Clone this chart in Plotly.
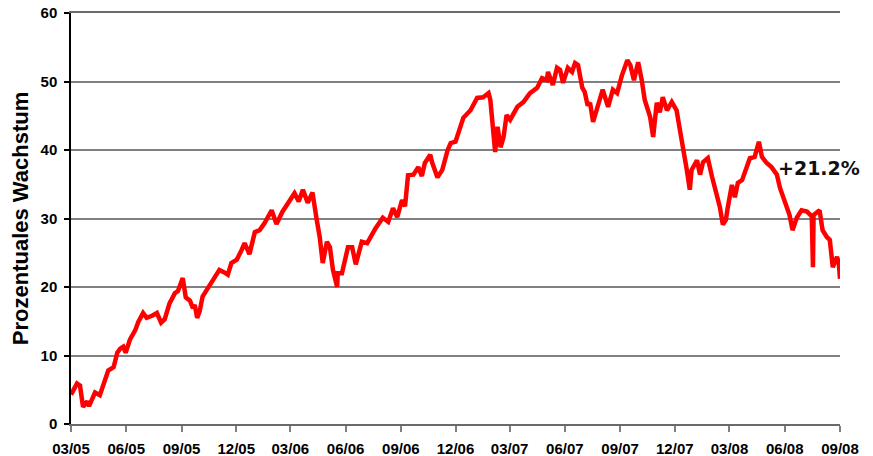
import plotly.graph_objects as go

dates = [
    "2005-03-01", "2005-03-06", "2005-03-11", "2005-03-16", "2005-03-21", "2005-03-28", "2005-03-31",
    "2005-04-05", "2005-04-10", "2005-04-18", "2005-04-24", "2005-05-02", "2005-05-11", "2005-05-17",
    "2005-05-22", "2005-05-27", "2005-05-31", "2005-06-07", "2005-06-16", "2005-06-21", "2005-06-29",
    "2005-07-05", "2005-07-14", "2005-07-22", "2005-07-29", "2005-08-04", "2005-08-12", "2005-08-21",
    "2005-08-26", "2005-08-31", "2005-09-03", "2005-09-08", "2005-09-15", "2005-09-20", "2005-09-23",
    "2005-09-27", "2005-10-01", "2005-10-06", "2005-10-15", "2005-10-26", "2005-11-03", "2005-11-12",
    "2005-11-17", "2005-11-23", "2005-12-02", "2005-12-10", "2005-12-15", "2005-12-23", "2006-01-01",
    "2006-01-09", "2006-01-17", "2006-01-29", "2006-02-06", "2006-02-16", "2006-02-25", "2006-03-08",
    "2006-03-15", "2006-03-22", "2006-03-30", "2006-04-07", "2006-04-14", "2006-04-19", "2006-04-24",
    "2006-05-01", "2006-05-06", "2006-05-11", "2006-05-18", "2006-05-19", "2006-05-26", "2006-06-05",
    "2006-06-12", "2006-06-18", "2006-06-28", "2006-07-07", "2006-07-21", "2006-08-02", "2006-08-11",
    "2006-08-19", "2006-08-26", "2006-09-03", "2006-09-08", "2006-09-13", "2006-09-22", "2006-09-30",
    "2006-10-06", "2006-10-11", "2006-10-20", "2006-10-23", "2006-11-01", "2006-11-09", "2006-11-18",
    "2006-11-23", "2006-12-01", "2006-12-06", "2006-12-14", "2006-12-26", "2007-01-06", "2007-01-16",
    "2007-01-25", "2007-01-28", "2007-02-02", "2007-02-05", "2007-02-09", "2007-02-14", "2007-02-19",
    "2007-02-24", "2007-03-02", "2007-03-14", "2007-03-24", "2007-04-04", "2007-04-16", "2007-04-24",
    "2007-05-02", "2007-05-04", "2007-05-12", "2007-05-19", "2007-05-24", "2007-05-29", "2007-06-06",
    "2007-06-13", "2007-06-18", "2007-06-23", "2007-06-30", "2007-07-04", "2007-07-09", "2007-07-13",
    "2007-07-18", "2007-07-26", "2007-08-03", "2007-08-12", "2007-08-20", "2007-08-27", "2007-09-04",
    "2007-09-13", "2007-09-18", "2007-09-24", "2007-10-01", "2007-10-07", "2007-10-12", "2007-10-21",
    "2007-10-26", "2007-11-01", "2007-11-06", "2007-11-11", "2007-11-18", "2007-11-26", "2007-12-04",
    "2007-12-09", "2007-12-14", "2007-12-21", "2007-12-26", "2007-12-29", "2008-01-07", "2008-01-12",
    "2008-01-17", "2008-01-25", "2008-02-01", "2008-02-09", "2008-02-14", "2008-02-19", "2008-02-24",
    "2008-02-27", "2008-03-05", "2008-03-10", "2008-03-15", "2008-03-22", "2008-03-30", "2008-04-04",
    "2008-04-12", "2008-04-19", "2008-04-24", "2008-05-02", "2008-05-10", "2008-05-19", "2008-05-24",
    "2008-06-01", "2008-06-09", "2008-06-14", "2008-06-21", "2008-06-29", "2008-07-08", "2008-07-14",
    "2008-07-16", "2008-07-18", "2008-07-19", "2008-07-29", "2008-08-03", "2008-08-10", "2008-08-15",
    "2008-08-20", "2008-08-27", "2008-08-30", "2008-09-01",
]

growth = [
    4.3, 5.2, 5.9, 5.6, 2.5, 3.3, 2.6,
    3.6, 4.6, 4.2, 5.9, 7.8, 8.3, 10.4,
    11.0, 11.3, 10.4, 12.3, 13.7, 14.9, 16.2,
    15.5, 15.8, 16.2, 14.8, 15.3, 17.6, 19.1,
    19.4, 20.5, 21.3, 18.5, 18.0, 16.9, 17.4,
    15.5, 16.4, 18.6, 19.8, 21.5, 22.5, 22.1,
    21.8, 23.5, 24.0, 25.4, 26.4, 24.8, 28.0,
    28.3, 29.3, 31.2, 29.2, 31.0, 32.3, 33.7,
    32.5, 34.2, 32.3, 33.8, 29.8, 27.3, 23.5,
    26.6, 25.8, 22.5, 20.0, 22.0, 22.0, 25.8,
    25.8, 23.3, 26.6, 26.4, 28.6, 30.1, 29.5,
    31.5, 30.2, 32.7, 31.8, 36.3, 36.4, 37.5,
    36.2, 38.1, 39.3, 38.2, 36.0, 37.1, 40.0,
    41.0, 41.2, 42.5, 44.7, 45.8, 47.6, 47.7,
    48.3, 47.3, 42.5, 39.7, 43.4, 40.4, 41.9,
    45.1, 44.4, 46.3, 47.0, 48.3, 49.1, 50.5,
    50.2, 51.4, 49.5, 52.0, 51.7, 49.8, 52.0,
    51.4, 52.7, 52.4, 49.1, 48.5, 46.5, 46.9,
    44.1, 46.3, 48.8, 46.3, 48.8, 48.3, 50.9,
    53.1, 52.4, 50.2, 52.8, 50.2, 47.3, 44.8,
    41.9, 46.9, 45.5, 47.7, 45.8, 47.0, 45.8,
    43.2, 41.0, 37.1, 34.2, 37.1, 38.5, 36.4,
    38.2, 38.8, 36.1, 33.7, 31.7, 29.1, 29.8,
    31.5, 34.9, 33.1, 35.2, 35.6, 37.5, 38.8,
    39.0, 41.2, 39.0, 38.1, 37.5, 36.4, 34.5,
    32.3, 30.5, 28.3, 30.1, 31.2, 31.0, 30.5,
    30.3, 22.9, 30.5, 31.2, 28.3, 27.3, 26.9,
    22.9, 24.4, 23.5, 21.2,
]

tick_dates = ["2005-03-01", "2005-06-01", "2005-09-01", "2005-12-01", "2006-03-01", "2006-06-01",
              "2006-09-01", "2006-12-01", "2007-03-01", "2007-06-01", "2007-09-01", "2007-12-01",
              "2008-03-01", "2008-06-01", "2008-09-01"]
tick_labels = ["03/05", "06/05", "09/05", "12/05", "03/06", "06/06", "09/06", "12/06",
               "03/07", "06/07", "09/07", "12/07", "03/08", "06/08", "09/08"]
y_ticks = [0, 10, 20, 30, 40, 50, 60]

annotation_text = "+21.2%"
annotation_date = "2008-05-18"
annotation_value = 37.4

fig = go.Figure()
fig.add_trace(go.Scatter(
    x=dates, y=growth, mode="lines",
    line=dict(color="#FF0000", width=4.5),
    showlegend=False, hoverinfo="skip",
))

fig.add_annotation(
    x=annotation_date, y=annotation_value, text=annotation_text,
    xanchor="left", yanchor="middle", showarrow=False,
    font=dict(family="DejaVu Sans", size=19, color="#111111", weight="bold"),
)

# the page adds an 8px body margin, so the figure is 8px smaller and margins shifted
fig.update_layout(
    width=865, height=448,
    margin=dict(l=63, r=33, t=5, b=32, autoexpand=False),
    paper_bgcolor="white", plot_bgcolor="white",
    font=dict(family="Liberation Sans, Arial", color="black"),
    xaxis=dict(
        type="date",
        range=["2005-03-01", "2008-09-01"],
        tickvals=tick_dates, ticktext=tick_labels,
        showgrid=False, zeroline=False, automargin=False,
        showline=True, linecolor="#6a6a6a", linewidth=1.5, mirror=True,
        ticks="outside", ticklen=6, tickcolor="#808080", tickwidth=1.5,
        tickfont=dict(family="Liberation Sans, Arial", size=15, color="black", weight="bold"),
        ticklabelstandoff=4, ticklabeloverflow="allow",
    ),
    yaxis=dict(
        range=[0, 60],
        tickvals=y_ticks,
        showgrid=True, gridcolor="#808080", gridwidth=1.5,
        zeroline=False, automargin=False,
        showline=True, linecolor="black", linewidth=1.5,
        ticks="outside", ticklen=5, tickcolor="black", tickwidth=1.5,
        tickfont=dict(family="Liberation Sans, Arial", size=15, color="black", weight="bold"),
        ticklabelstandoff=4, ticklabeloverflow="allow",
        title=dict(text="Prozentuales Wachstum",
                   font=dict(family="Liberation Sans, Arial", size=22, color="black", weight="bold"),
                   standoff=7),
    ),
)

fig.write_html("out.html")
